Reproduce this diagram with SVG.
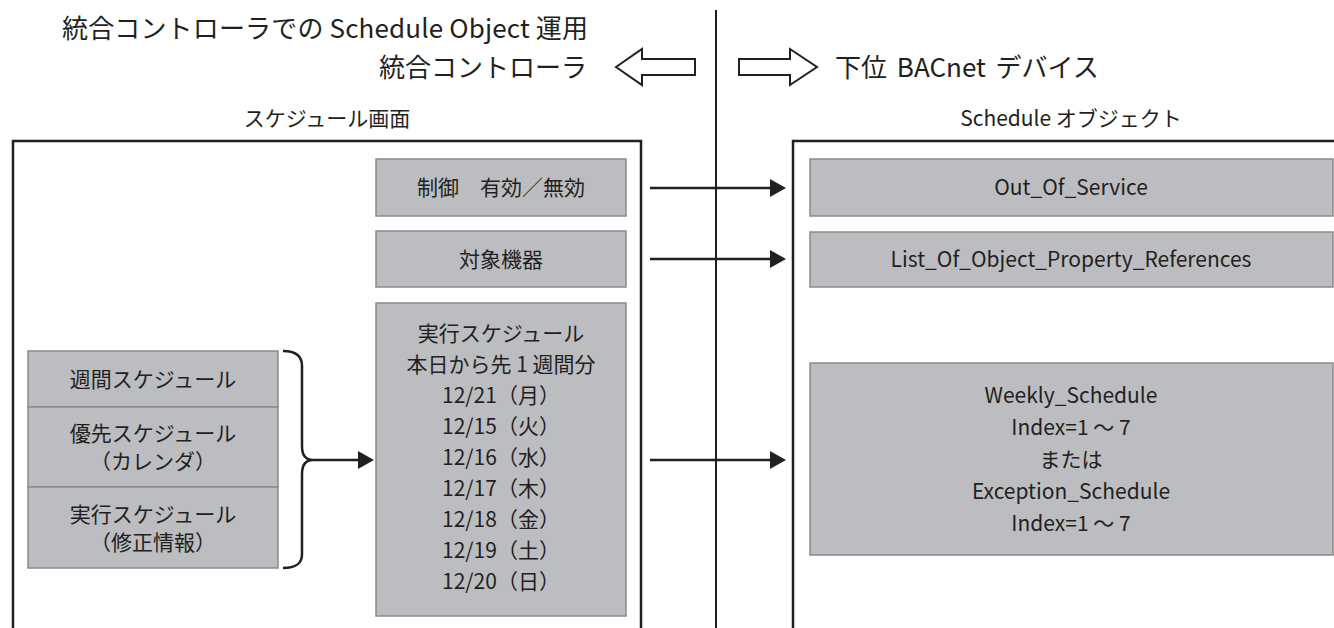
<svg xmlns="http://www.w3.org/2000/svg" width="1334" height="628" viewBox="0 0 1334 628">
<defs>
<style>
text{font-family:"Noto Sans CJK JP","Noto Sans",sans-serif;fill:#231f20;}
.t26{font-size:26px;}
.t21{font-size:21px;text-anchor:middle;}
.panel{fill:none;stroke:#231f20;stroke-width:2.5;}
.gbox{fill:#bcbdc0;stroke:#8a8b8e;stroke-width:1.5;}
.conn{stroke:#231f20;stroke-width:2.5;fill:none;}
.hollow{fill:#fff;stroke:#231f20;stroke-width:2;stroke-linejoin:miter;}
</style>
<marker id="ah" viewBox="0 0 16 18" refX="4" refY="9" markerWidth="16" markerHeight="18" markerUnits="userSpaceOnUse" orient="auto">
<path d="M0,0 L16,9 L0,18 Z" fill="#231f20"/>
</marker>
</defs>
<rect width="1334" height="628" fill="#fff"/>

<g id="header">
<text class="t26" x="588" y="38" text-anchor="end" textLength="526" lengthAdjust="spacing">統合コントローラでの Schedule Object 運用</text>
<text class="t26" x="587" y="77" text-anchor="end">統合コントローラ</text>
<text class="t26" x="835" y="77" word-spacing="4">下位 BACnet デバイス</text>
<polygon class="hollow" points="616,67 642,49 642,59 695,59 695,75 642,75 642,85"/>
<polygon class="hollow" points="739,59 790,59 790,49 817,67 790,85 790,75 739,75"/>
<line x1="716" y1="10" x2="716" y2="628" stroke="#231f20" stroke-width="2"/>
</g>

<g id="left-panel">
<rect class="panel" x="13" y="141" width="628" height="520"/>
<text class="t21" x="327" y="126">スケジュール画面</text>
</g>

<g id="right-panel">
<rect class="panel" x="793" y="141" width="600" height="520"/>
<text class="t21" x="1071" y="126">Schedule オブジェクト</text>
</g>

<g id="node-control">
<rect class="gbox" x="376" y="159" width="250" height="57"/>
<text class="t21" x="501" y="195">制御　有効／無効</text>
</g>

<g id="node-target">
<rect class="gbox" x="376" y="231" width="250" height="56"/>
<text class="t21" x="501" y="267">対象機器</text>
</g>

<g id="node-exec">
<rect class="gbox" x="376" y="303" width="250" height="313"/>
<text class="t21" x="501" y="341">実行スケジュール</text>
<text class="t21" x="501" y="372">本日から先 1 週間分</text>
<text class="t21" x="501" y="403">12/21（月）</text>
<text class="t21" x="501" y="434">12/15（火）</text>
<text class="t21" x="501" y="465">12/16（水）</text>
<text class="t21" x="501" y="496">12/17（木）</text>
<text class="t21" x="501" y="527">12/18（金）</text>
<text class="t21" x="501" y="558">12/19（土）</text>
<text class="t21" x="501" y="589">12/20（日）</text>
</g>

<g id="node-weekly">
<rect class="gbox" x="28" y="351" width="250" height="56"/>
<text class="t21" x="153" y="387">週間スケジュール</text>
</g>

<g id="node-priority">
<rect class="gbox" x="28" y="407" width="250" height="80"/>
<text class="t21" x="153" y="441">優先スケジュール</text>
<text class="t21" x="153" y="469">（カレンダ）</text>
</g>

<g id="node-exec-fix">
<rect class="gbox" x="28" y="487" width="250" height="81"/>
<text class="t21" x="153" y="522">実行スケジュール</text>
<text class="t21" x="153" y="550">（修正情報）</text>
</g>

<g id="node-oos">
<rect class="gbox" x="810" y="159" width="523" height="57"/>
<text class="t21" x="1071" y="195">Out_Of_Service</text>
</g>

<g id="node-lopr">
<rect class="gbox" x="810" y="232" width="523" height="55"/>
<text class="t21" x="1071" y="267">List_Of_Object_Property_References</text>
</g>

<g id="node-sched">
<rect class="gbox" x="810" y="363" width="523" height="192"/>
<text class="t21" x="1071" y="403">Weekly_Schedule</text>
<text class="t21" x="1071" y="435">Index=1 ～ 7</text>
<text class="t21" x="1071" y="467">または</text>
<text class="t21" x="1071" y="499">Exception_Schedule</text>
<text class="t21" x="1071" y="531">Index=1 ～ 7</text>
</g>

<g id="connectors">
<path class="conn" d="M283,351 C296,351 302,356 302,366 L302,446 C302,455 306,460 313,460 C306,460 302,465 302,474 L302,554 C302,564 296,568 283,568"/>
<line class="conn" x1="313" y1="460" x2="362" y2="460" marker-end="url(#ah)"/>
<line class="conn" x1="650" y1="188" x2="774" y2="188" marker-end="url(#ah)"/>
<line class="conn" x1="650" y1="259" x2="774" y2="259" marker-end="url(#ah)"/>
<line class="conn" x1="650" y1="460" x2="774" y2="460" marker-end="url(#ah)"/>
</g>
</svg>
